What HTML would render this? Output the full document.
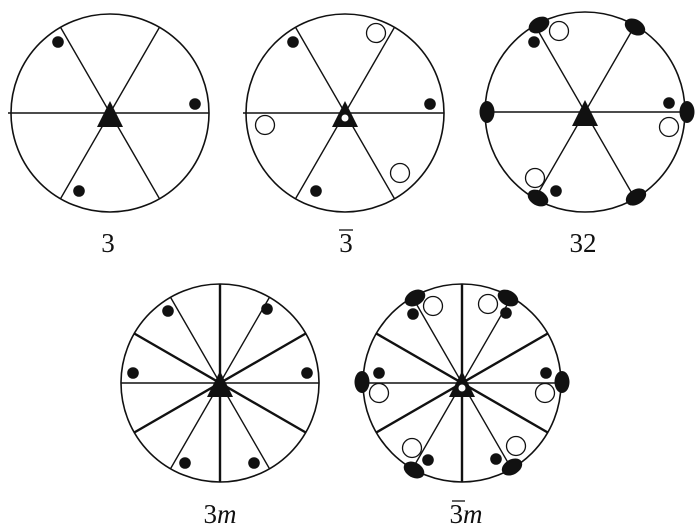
<!DOCTYPE html>
<html><head><meta charset="utf-8"><style>
html,body{margin:0;padding:0;background:#fff;}
svg{display:block;}
text{font-family:"Liberation Serif",serif;font-size:27px;fill:#111;}
</style></head><body>
<svg id="s" width="696" height="525" viewBox="0 0 696 525"></svg>
<script>
const NS='http://www.w3.org/2000/svg';
const svg=document.getElementById('s');
const centers=[[110,113],[345,113],[585,112],[220,383],[462,383]];
const R=99;
const labels=['3','3̄','32','3m','3̄m'];
const labelX=[108,346,583,220,466];
const labelY=[252,252,252,523,523];
const lineAngles=[[0,60,120],[0,60,120],[0,60,120],[0,60,120,90,30,150],[0,60,120,90,30,150]];
const thickAngles=[90,30,150];
const filledDots=[
 [[58,42],[195,104],[79,191]],
 [[293,42],[430,104],[316,191]],
 [[534,42],[669,103],[556,191]],
 [[168,311],[267,309],[133,373],[307,373],[185,463],[254,463]],
 [[413,314],[506,313],[379,373],[546,373],[428,460],[496,459]]
];
const openDots=[
 [],
 [[376,33],[265,125],[400,173]],
 [[559,31],[669,127],[535,178]],
 [],
 [[433,306],[488,304],[379,393],[545,393],[412,448],[516,446]]
];
const twofold=[
 [],[],
 [[539,25],[635,27],[487,112],[687,112],[538,198],[636,197]],
 [],
 [[415,298],[508,298],[362,382],[562,382],[414,470],[512,467]]
];
const centerInv=[false,true,false,false,true];

function mk(tag,attrs){const e=document.createElementNS(NS,tag);for(const k in attrs)e.setAttribute(k,attrs[k]);svg.appendChild(e);return e;}

centers.forEach((c,i)=>{
  const [cx,cy]=c;
  let e=mk('circle',{cx,cy,r:(i===2?100:R),fill:'none',stroke:'#111','stroke-width':1.6});
  
  
  const r=(i===2?100:R);
  lineAngles[i].forEach(a=>{
    const t=a*Math.PI/180, dx=r*Math.cos(t), dy=r*Math.sin(t);
    const ext=(a===0&&i<2)?3:0;
    const thick=i>=3&&thickAngles.includes(a);
    const l=mk('line',{x1:cx-dx-ext,y1:cy+dy,x2:cx+dx,y2:cy-dy,stroke:'#111','stroke-width':thick?2.4:1.4});
    
    
  });
  twofold[i].forEach(p=>{
    const ang=Math.atan2(p[1]-cy,p[0]-cx)*180/Math.PI+90;
    const el=mk('ellipse',{cx:p[0],cy:p[1],rx:11,ry:7.5,fill:'#111',transform:`rotate(${ang} ${p[0]} ${p[1]})`});
    
    
  });
  filledDots[i].forEach(p=>{
    const d=mk('circle',{cx:p[0],cy:p[1],r:5.8,fill:'#111'});
    
    
  });
  openDots[i].forEach(p=>{
    const d=mk('circle',{cx:p[0],cy:p[1],r:9.5,fill:'#fff',stroke:'#111','stroke-width':1.3});
    
    
  });
  const tri=mk('polygon',{points:`${cx},${cy-12} ${cx-13},${cy+14} ${cx+13},${cy+14}`,fill:'#111'});
  
  
  if(centerInv[i]){
    const w=mk('circle',{cx,cy:cy+5,r:3.5,fill:'#fff'});
    
    
  }
  const tx=mk('text',{x:labelX[i],y:labelY[i],'text-anchor':'middle'});
  const s=labels[i];
  if(s.includes('̄')){
    const ts=document.createElementNS(NS,'tspan');ts.textContent='3';tx.appendChild(ts);
    const ov=mk('line',{x1:labelX[i]-(s.length>2?14:7),y1:labelY[i]-22,x2:labelX[i]-(s.length>2?1:-7),y2:labelY[i]-22,stroke:'#111','stroke-width':1.3});
    
    
  } else {
    const ts=document.createElementNS(NS,'tspan');ts.textContent=s[0];tx.appendChild(ts);
  }
  if(s.endsWith('m')){
    const m=document.createElementNS(NS,'tspan');m.setAttribute('font-style','italic');m.textContent='m';tx.appendChild(m);
  } else if(s==='32'){
    const m=document.createElementNS(NS,'tspan');m.textContent='2';tx.appendChild(m);
  }
  
  
});
</script>
</body></html>
